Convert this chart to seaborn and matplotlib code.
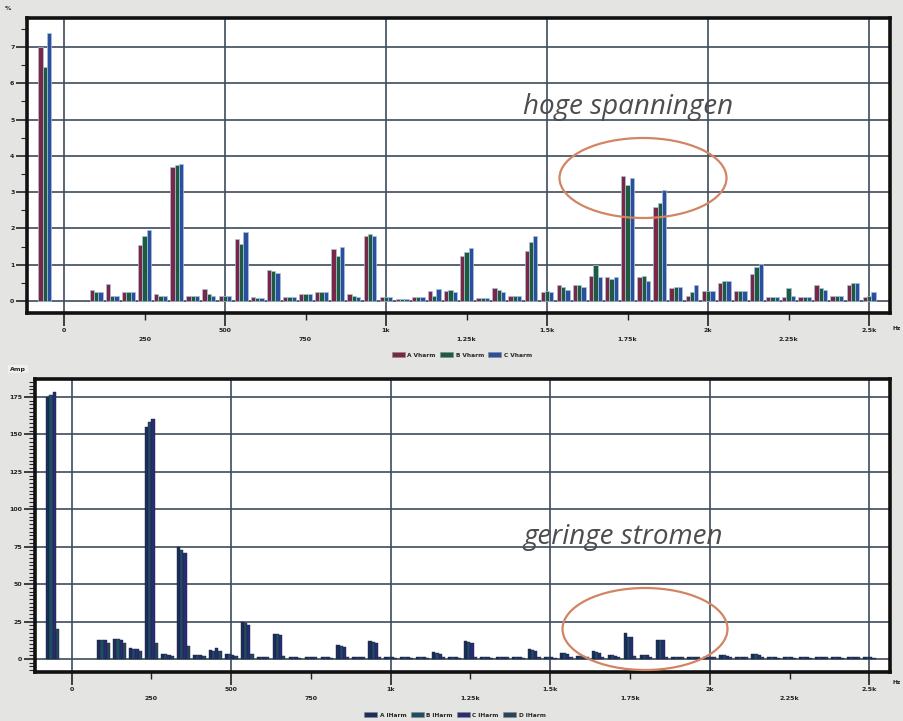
import matplotlib
matplotlib.use("Agg")
import matplotlib.pyplot as plt
import numpy as np
import pandas as pd
import seaborn as sns
from matplotlib.patches import Ellipse, Patch
from matplotlib.ticker import MultipleLocator

# ---------------- data ----------------
# display position of each harmonic (Hz); the fundamental is shown left of 0
freq_hz = [-60, 100, 150, 200, 250, 300, 350, 400, 450, 500, 550, 600, 650, 700,
           750, 800, 850, 900, 950, 1000, 1050, 1100, 1150, 1200, 1250, 1300, 1350,
           1400, 1450, 1500, 1550, 1600, 1650, 1700, 1750, 1800, 1850, 1900, 1950,
           2000, 2050, 2100, 2150, 2200, 2250, 2300, 2350, 2400, 2450, 2500]

volt_labels = ["A Vharm", "B Vharm", "C Vharm"]
A_v = [7.00, 0.30, 0.46, 0.25, 1.55, 0.20, 3.70, 0.15, 0.33, 0.15, 1.70, 0.10, 0.86,
       0.12, 0.18, 0.25, 1.43, 0.20, 1.80, 0.10, 0.06, 0.10, 0.28, 0.28, 1.25, 0.08,
       0.35, 0.15, 1.39, 0.25, 0.45, 0.45, 0.70, 0.65, 3.45, 0.65, 2.60, 0.35, 0.15,
       0.28, 0.50, 0.28, 0.75, 0.12, 0.12, 0.12, 0.45, 0.15, 0.45, 0.12]
B_v = [6.45, 0.25, 0.15, 0.25, 1.80, 0.15, 3.75, 0.15, 0.20, 0.15, 1.57, 0.08, 0.82,
       0.12, 0.20, 0.25, 1.25, 0.15, 1.85, 0.12, 0.06, 0.12, 0.15, 0.30, 1.35, 0.08,
       0.30, 0.15, 1.62, 0.28, 0.40, 0.45, 1.00, 0.60, 3.20, 0.70, 2.70, 0.38, 0.25,
       0.28, 0.55, 0.28, 0.93, 0.12, 0.35, 0.12, 0.35, 0.15, 0.50, 0.15]
C_v = [7.40, 0.25, 0.15, 0.25, 1.96, 0.15, 3.78, 0.15, 0.15, 0.15, 1.90, 0.08, 0.76,
       0.12, 0.18, 0.25, 1.48, 0.10, 1.78, 0.10, 0.06, 0.10, 0.33, 0.25, 1.45, 0.08,
       0.25, 0.15, 1.80, 0.25, 0.30, 0.40, 0.65, 0.65, 3.40, 0.55, 3.05, 0.40, 0.45,
       0.28, 0.55, 0.28, 1.02, 0.12, 0.15, 0.10, 0.30, 0.15, 0.50, 0.25]

amp_labels = ["A IHarm", "B IHarm", "C IHarm", "D IHarm"]
A_i = [175, 13, 13.5, 7, 155, 3, 75, 2.5, 5.8, 3, 25, 1, 17, 1, 1.5, 1, 9, 1.5, 12, 1,
       1, 1, 4.5, 1, 12, 1, 1.5, 1, 6.5, 1, 4, 2, 5, 2.5, 17.5, 2.5, 13, 1.5, 1.5, 1.5,
       2.5, 1.5, 3, 1, 1, 1, 1.5, 1, 1.5, 1]
B_i = [176.5, 13, 13.5, 6.5, 158, 3, 73, 2.5, 5.5, 3, 24, 1, 16.5, 1, 1.5, 1, 8.5, 1.5,
       11.5, 1, 1, 1, 4, 1, 11.5, 1, 1.5, 1, 6, 1, 4, 2, 4.5, 2.5, 15, 2.5, 12.5, 1.5,
       1.5, 1.5, 2.5, 1.5, 3, 1, 1, 1, 1.5, 1, 1.5, 1]
C_i = [178, 13, 13, 6.5, 160, 2.5, 71, 2.5, 7.3, 2.5, 23, 1, 16, 1, 1.5, 1, 8, 1.5, 11,
       1, 1, 1, 3.5, 1, 11, 1, 1.5, 1, 5.5, 1, 3.5, 2, 4, 2, 15, 2.5, 12.5, 1.5, 1.5,
       1.5, 2, 1.5, 2.5, 1, 1, 1, 1.5, 1, 1.5, 1]
D_i = [20, 11, 11, 5, 11, 2, 8.5, 2, 5, 2, 3, 1, 2, 0.8, 1, 0.8, 1.5, 1, 1.5, 0.8, 0.8,
       0.8, 1.5, 0.8, 1.5, 0.8, 1, 0.8, 1.5, 0.8, 1.5, 1, 1.5, 1, 2, 1, 1.5, 1, 1, 1, 1,
       1, 1, 0.8, 0.8, 0.8, 1, 0.8, 1, 0.8]

major_ticks = [0, 500, 1000, 1500, 2000, 2500]
major_labels = ["0", "500", "1k", "1.5k", "2k", "2.5k"]
minor_ticks = [250, 750, 1250, 1750, 2250]
minor_labels = ["250", "750", "1.25k", "1.75k", "2.25k"]

volt_colors = ["#7a2747", "#1d5a3e", "#2b4f9e"]
amp_colors = ["#1d2c5c", "#1f4d62", "#2a2b74", "#27465c"]

# ---------------- figure ----------------
sns.set_theme(style="white")
plt.rcParams["font.family"] = ["DejaVu Sans"]

W, H = 904, 721
fig = plt.figure(figsize=(W / 100, H / 100), dpi=100, facecolor="#e4e4e2")


def px_axes(l, t, r, b):
    return fig.add_axes([l / W, 1 - b / H, (r - l) / W, (b - t) / H])


ax1 = px_axes(27, 18, 890, 313)
ax2 = px_axes(35, 379, 890, 672)

dfv = pd.DataFrame({
    "freq": freq_hz * 3,
    "value": A_v + B_v + C_v,
    "phase": [lab for lab in volt_labels for _ in freq_hz],
})
dfi = pd.DataFrame({
    "freq": freq_hz * 4,
    "value": A_i + B_i + C_i + D_i,
    "phase": [lab for lab in amp_labels for _ in freq_hz],
})

sns.barplot(data=dfv, x="freq", y="value", hue="phase", hue_order=volt_labels,
            native_scale=True, palette=volt_colors, errorbar=None, ax=ax1,
            legend=False, edgecolor="#a8c4d8", linewidth=0.5, saturation=1)
sns.barplot(data=dfi, x="freq", y="value", hue="phase", hue_order=amp_labels,
            native_scale=True, palette=amp_colors, errorbar=None, ax=ax2,
            legend=False, edgecolor="#1a2440", linewidth=0.3, saturation=1)

grid_col = "#3e4b5c"
for ax in (ax1, ax2):
    ax.set_facecolor("white")
    ax.set_axisbelow(True)
    ax.set_xlim(-115, 2565)
    ax.set_xlabel("")
    ax.set_ylabel("")
    ax.set_xticks(major_ticks, labels=major_labels)
    ax.set_xticks(minor_ticks, labels=minor_labels, minor=True)
    ax.grid(True, which="major", color=grid_col, linewidth=1.2)
    ax.tick_params(axis="x", which="major", direction="out", length=9, width=1.2,
                   pad=2, labelsize=4.5, colors="#222222", bottom=True)
    ax.tick_params(axis="x", which="minor", direction="out", length=5, width=1.0,
                   pad=12, labelsize=4.5, colors="#222222", bottom=True)
    ax.tick_params(axis="y", which="major", direction="out", length=8, width=1.2,
                   pad=1, labelsize=4.5, colors="#222222", left=True)
    ax.tick_params(axis="y", which="minor", direction="out", length=4, width=0.8,
                   left=True)
    for lab in ax.get_xticklabels(which="both") + ax.get_yticklabels():
        lab.set_fontweight("bold")
    for s in ax.spines.values():
        s.set_visible(True)
        s.set_color("#111111")
        s.set_linewidth(2.6)

ax1.set_ylim(-0.33, 7.8)
ax1.set_yticks(range(0, 8))
ax1.yaxis.set_minor_locator(MultipleLocator(0.5))
ax2.set_ylim(-8.7, 187)
ax2.set_yticks(range(0, 176, 25))
ax2.yaxis.set_minor_locator(MultipleLocator(2.5))
for lab in ax1.get_yticklabels() + ax2.get_yticklabels():
    lab.set_fontweight("bold")

# axis unit labels
fig.text(5 / W, 1 - 8 / H, "%", fontsize=4.5, fontweight="bold", color="#222222",
         va="center")
fig.text(10 / W, 1 - 369 / H, "Amp", fontsize=4.5, fontweight="bold", color="#222222",
         va="center", bbox=dict(boxstyle="square,pad=0.3", fc="#f0f0f0", ec="none"))
fig.text(893 / W, 1 - 328 / H, "Hz", fontsize=4.2, fontweight="bold", color="#222222",
         va="center")
fig.text(893 / W, 1 - 683 / H, "Hz", fontsize=4.2, fontweight="bold", color="#222222",
         va="center")

# legends
vh = [Patch(facecolor=c, edgecolor="#888888", linewidth=0.4) for c in volt_colors]
fig.legend(vh, volt_labels, loc="center", bbox_to_anchor=(462 / W, 1 - 355 / H),
           ncol=3, frameon=False, handlelength=2.2, handleheight=0.9,
           columnspacing=0.8, handletextpad=0.4, prop={"weight": "bold", "size": 4.2})
ih = [Patch(facecolor=c, edgecolor="#888888", linewidth=0.4) for c in amp_colors]
fig.legend(ih, amp_labels, loc="center", bbox_to_anchor=(455 / W, 1 - 715 / H),
           ncol=4, frameon=False, handlelength=2.2, handleheight=0.9,
           columnspacing=0.8, handletextpad=0.4, prop={"weight": "bold", "size": 4.2})

# annotations
ann_col = "#4d4d4d"
fig.text(523 / W, 1 - 107 / H, "hoge spanningen", fontsize=20, style="italic",
         color=ann_col, va="center", ha="left", family=["Open Sans", "DejaVu Sans"])
fig.text(523 / W, 1 - 537 / H, "geringe stromen", fontsize=20, style="italic",
         color=ann_col, va="center", ha="left", family=["Open Sans", "DejaVu Sans"])
ell_col = "#d28463"
fig.add_artist(Ellipse((643 / W, 1 - 178 / H), 167 / W, 80 / H, transform=fig.transFigure,
                       fill=False, edgecolor=ell_col, linewidth=1.6, zorder=10))
fig.add_artist(Ellipse((645 / W, 1 - 629 / H), 165 / W, 82 / H, transform=fig.transFigure,
                       fill=False, edgecolor=ell_col, linewidth=1.6, zorder=10))

fig.savefig("out.png", dpi=100, facecolor=fig.get_facecolor())
